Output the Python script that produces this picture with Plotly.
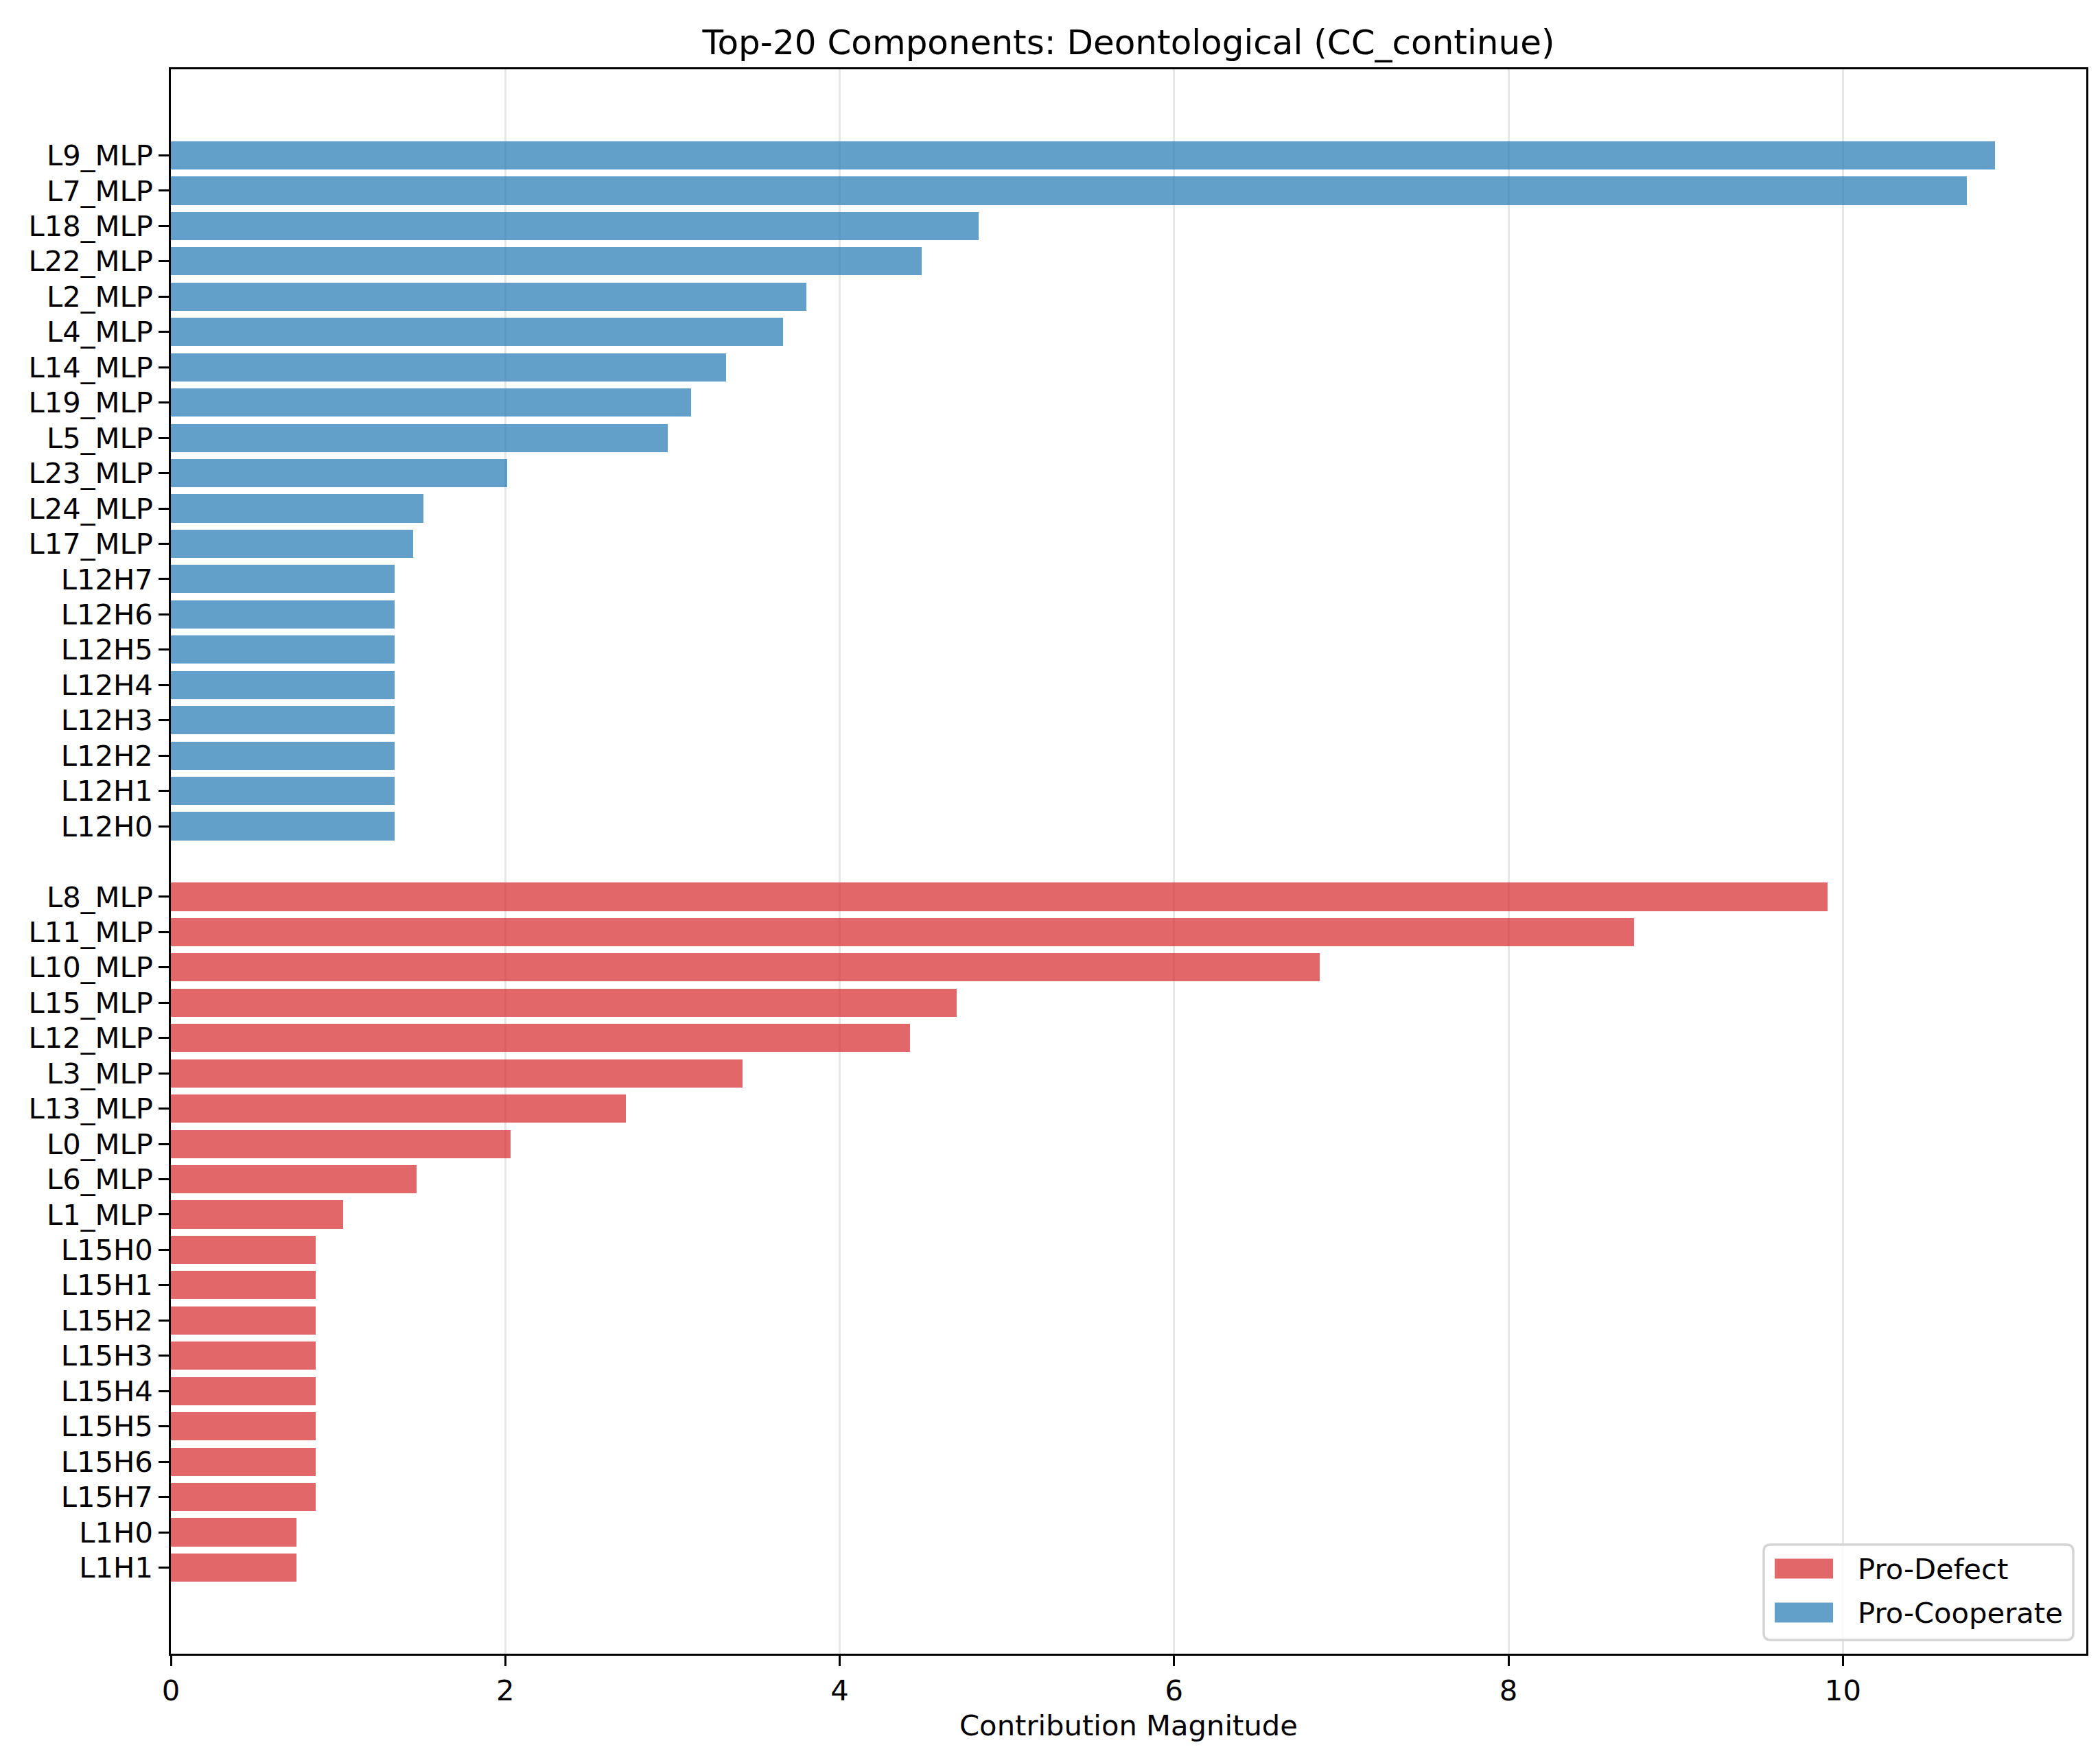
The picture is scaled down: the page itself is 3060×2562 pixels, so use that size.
import plotly.graph_objects as go

coop_labels = ["L9_MLP", "L7_MLP", "L18_MLP", "L22_MLP", "L2_MLP", "L4_MLP", "L14_MLP",
               "L19_MLP", "L5_MLP", "L23_MLP", "L24_MLP", "L17_MLP", "L12H7", "L12H6",
               "L12H5", "L12H4", "L12H3", "L12H2", "L12H1", "L12H0"]
coop_values = [10.91, 10.74, 4.83, 4.49, 3.80, 3.66, 3.32, 3.11, 2.97, 2.01, 1.51, 1.45,
               1.34, 1.34, 1.34, 1.34, 1.34, 1.34, 1.34, 1.34]

defect_labels = ["L8_MLP", "L11_MLP", "L10_MLP", "L15_MLP", "L12_MLP", "L3_MLP", "L13_MLP",
                 "L0_MLP", "L6_MLP", "L1_MLP", "L15H0", "L15H1", "L15H2", "L15H3", "L15H4",
                 "L15H5", "L15H6", "L15H7", "L1H0", "L1H1"]
defect_values = [9.91, 8.75, 6.87, 4.70, 4.42, 3.42, 2.72, 2.03, 1.47, 1.03, 0.866, 0.866,
                 0.866, 0.866, 0.866, 0.866, 0.866, 0.866, 0.753, 0.753]

x_ticks = [0, 2, 4, 6, 8, 10]
series_names = ["Pro-Defect", "Pro-Cooperate"]
series_colors = ["rgba(214,39,40,0.7)", "rgba(31,119,180,0.7)"]

n_d = len(defect_labels)
n_c = len(coop_labels)
defect_pos = [n_d - 1 - i for i in range(n_d)]
coop_pos = [n_d + n_c - i for i in range(n_c)]

W, H = 3060, 2562
ML, MR, MT, MB = 241, 28, 93, 160
PW, PH = W - ML - MR, H - MT - MB

FONT = "DejaVu Sans"
FS = 41.7
LW = 3.3

fig = go.Figure()
fig.add_trace(go.Bar(
    x=defect_values, y=defect_pos, orientation="h", width=0.8,
    marker=dict(color=series_colors[0], line=dict(width=0)),
    name=series_names[0], showlegend=False))
fig.add_trace(go.Bar(
    x=coop_values, y=coop_pos, orientation="h", width=0.8,
    marker=dict(color=series_colors[1], line=dict(width=0)),
    name=series_names[1], showlegend=False))

all_max = max(max(coop_values), max(defect_values))
ymin, ymax = -0.4, n_d + n_c + 0.4
ypad = 0.05 * (ymax - ymin)


def px(xp):
    return (xp - ML) / PW


def py(yp):
    return (H - MB - yp) / PH


# legend box (matplotlib-style, lower right)
bx0, bx1, by0, by1 = 2562, 3013, 2243, 2382
r = 10
path = (f"M {px(bx0 + r)},{py(by0)} L {px(bx1 - r)},{py(by0)} "
        f"Q {px(bx1)},{py(by0)} {px(bx1)},{py(by0 + r)} "
        f"L {px(bx1)},{py(by1 - r)} Q {px(bx1)},{py(by1)} {px(bx1 - r)},{py(by1)} "
        f"L {px(bx0 + r)},{py(by1)} Q {px(bx0)},{py(by1)} {px(bx0)},{py(by1 - r)} "
        f"L {px(bx0)},{py(by0 + r)} Q {px(bx0)},{py(by0)} {px(bx0 + r)},{py(by0)} Z")
shapes = [dict(type="path", path=path, xref="paper", yref="paper",
               fillcolor="rgba(255,255,255,0.8)", line=dict(color="#d5d5d5", width=3.5),
               layer="above")]
annotations = []
for i, (nm, col) in enumerate(zip(series_names, series_colors)):
    cy = 2278 + 64 * i
    shapes.append(dict(type="rect", xref="paper", yref="paper",
                       x0=px(2578), x1=px(2663), y0=py(cy - 14.5), y1=py(cy + 14.5),
                       fillcolor=col, line=dict(width=0), layer="above"))
    annotations.append(dict(text=nm, xref="paper", yref="paper", x=px(2697), y=py(cy),
                            xanchor="left", yanchor="middle", showarrow=False,
                            font=dict(size=FS, family=FONT, color="black")))

fig.update_layout(
    width=W, height=H,
    paper_bgcolor="white", plot_bgcolor="white",
    margin=dict(l=ML, r=MR, t=MT, b=MB),
    font=dict(family=FONT, size=FS, color="black"),
    title=dict(text="Top-20 Components: Deontological (CC_continue)",
               x=0.5, xref="paper", xanchor="center",
               y=1 - 53 / H, yref="container", yanchor="middle",
               font=dict(size=50, family=FONT, color="black")),
    showlegend=False,
    bargap=0,
    shapes=shapes,
    annotations=annotations,
)
fig.update_xaxes(
    range=[0, all_max * 1.05], tickvals=x_ticks, ticktext=[str(v) for v in x_ticks],
    showgrid=True, gridcolor="#e7e7e7", gridwidth=LW,
    showline=True, linecolor="black", linewidth=LW, mirror=True,
    ticks="outside", ticklen=14.6, tickwidth=LW, tickcolor="black",
    zeroline=False,
    title=dict(text="Contribution Magnitude", font=dict(size=FS, family=FONT), standoff=14),
    tickfont=dict(size=FS, family=FONT),
)
fig.update_yaxes(
    range=[ymin - ypad, ymax + ypad],
    tickvals=defect_pos + coop_pos, ticktext=defect_labels + coop_labels,
    showgrid=False, zeroline=False,
    showline=True, linecolor="black", linewidth=LW, mirror=True,
    ticks="outside", ticklen=14.6, tickwidth=LW, tickcolor="black",
    tickfont=dict(size=FS, family=FONT),
)

fig.write_html("out.html")
